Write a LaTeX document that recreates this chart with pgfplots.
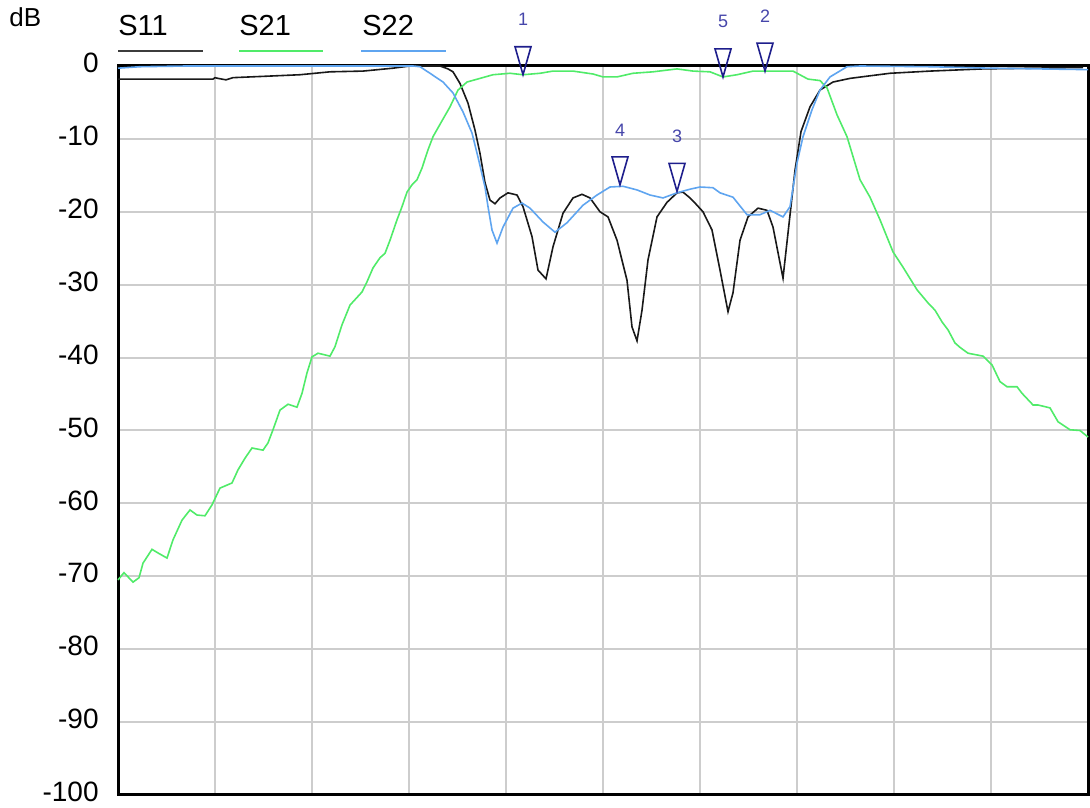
\documentclass[border=0pt]{standalone}
\usepackage{fontspec}
\setmainfont{Liberation Sans}
\usepackage{pgfplots}
\pgfplotsset{compat=1.18}

\definecolor{sone}{RGB}{25,25,25}
\definecolor{stwoone}{RGB}{80,235,105}
\definecolor{stwotwo}{RGB}{95,165,240}
\definecolor{gridgray}{RGB}{205,205,205}
\definecolor{mkcol}{RGB}{30,30,140}
\definecolor{numcol}{RGB}{70,70,170}

% marker: open triangle, tip on the point
\pgfdeclareplotmark{tipdown}{%
  \pgfpathmoveto{\pgfqpoint{0pt}{0pt}}%
  \pgfpathlineto{\pgfqpoint{-4pt}{14pt}}%
  \pgfpathlineto{\pgfqpoint{4pt}{14pt}}%
  \pgfpathclose
  \pgfusepathqstroke}

\begin{document}
\begin{tikzpicture}
\useasboundingbox (0,0) rectangle (545pt,403.5pt);
\begin{axis}[
    at={(59pt,6pt)}, anchor=south west,
    scale only axis, width=485pt, height=364.5pt,
    xmin=0, xmax=970, ymin=-100, ymax=0,
    xtick={0,97,...,970}, xticklabels={},
    ytick={-100,-90,...,0},
    grid=major,
    grid style={gridgray, line width=1pt},
    major tick length=0pt,
    axis line style={black, line width=1.5pt},
    /pgf/number format/assume math mode=true,
    yticklabel style={font=\fontsize{14}{16}\selectfont, anchor=east, inner sep=0pt, xshift=-9.5pt, yshift=1.5pt},
    clip=false,
]

% S11
\addplot[sone, line width=0.8pt] coordinates {
(0,-1.8)(95,-1.8)(97,-1.6)(100,-1.7)(108,-1.9)(115,-1.6)(149,-1.4)(182,-1.2)
(212,-0.8)(245,-0.7)(275,-0.3)(292,0)(322,0)(330,-0.4)(335,-0.8)(342,-2.4)
(350,-5.1)(357,-8.8)(362,-12)(367,-16)(372,-18.4)(377,-18.9)(382,-18.1)(390,-17.4)
(399,-17.7)(405,-19.3)(414,-23.4)(420,-28)(428,-29.2)(435,-24.8)(445,-20.2)(455,-18.1)
(464,-17.6)(472,-18.1)(482,-20)(490,-20.7)(499,-23.9)(509,-29.4)(514,-35.8)(519,-37.7)
(524,-33.5)(530,-26.6)(539,-20.7)(549,-18.7)(559,-17.4)(565,-17.3)(572,-18.1)(577,-18.8)
(585,-20)(594,-22.5)(602,-28)(610,-33.7)(615,-31.1)(622,-23.9)(630,-20.7)(640,-19.5)
(649,-19.8)(655,-22.1)(665,-29.1)(670,-22.9)(677,-14.3)(683,-9)(692,-5.6)(702,-3.3)
(715,-2.2)(732,-1.7)(749,-1.4)(772,-1.0)(812,-0.7)(865,-0.4)(965,-0.2)
};

% S21
\addplot[stwoone, line width=0.8pt] coordinates {
(0,-70.5)(6,-69.5)(15,-70.8)(21,-70.2)(25,-68.2)(34,-66.3)(40,-66.8)(49,-67.5)
(55,-65)(64,-62.3)(72,-60.9)(79,-61.6)(87,-61.7)(94,-60.2)(102,-57.9)(114,-57.2)
(120,-55.4)(127,-53.8)(134,-52.4)(145,-52.7)(150,-51.7)(155,-49.9)(162,-47.2)(170,-46.4)
(179,-46.8)(184,-44.9)(189,-42.1)(194,-39.9)(200,-39.4)(212,-39.8)(217,-38.5)(224,-35.5)
(232,-32.8)(244,-31)(249,-29.6)(255,-27.7)(262,-26.3)(267,-25.7)(272,-23.9)(279,-21.1)
(284,-19.3)(289,-17.3)(294,-16.3)(299,-15.6)(304,-14)(310,-11.5)(315,-9.7)(322,-8)
(332,-5.6)(340,-3.3)(349,-2.2)(362,-1.7)(375,-1.2)(392,-1.0)(405,-1.2)(422,-1.0)
(435,-0.7)(455,-0.7)(475,-1.1)(485,-1.5)(499,-1.5)(515,-1.0)(535,-0.8)(559,-0.4)
(575,-0.7)(592,-0.8)(605,-1.5)(619,-1.2)(635,-0.7)(675,-0.7)(690,-1.8)(702,-2.0)
(709,-3.0)(719,-6.7)(729,-9.7)(742,-15.6)(752,-18)(762,-21.1)(775,-25.5)(785,-27.6)
(799,-30.7)(810,-32.5)(817,-33.5)(824,-35.1)(830,-36.2)(837,-38)(842,-38.6)(850,-39.4)
(865,-39.8)(874,-41)(882,-43.3)(889,-44)(899,-44)(904,-44.9)(915,-46.5)(920,-46.5)
(932,-46.9)(940,-48.8)(952,-49.9)(962,-50)(970,-50.9)
};

% S22
\addplot[stwotwo, line width=0.8pt] coordinates {
(0,-0.3)(22,-0.1)(69,0)(295,0)(302,-0.1)(312,-1)(325,-2.2)(335,-3.7)
(345,-6.3)(354,-9.2)(360,-12.5)(367,-16.6)(370,-19.3)(374,-22.5)(379,-24.3)(385,-22.1)
(395,-19.5)(404,-18.8)(412,-19.5)(425,-21.4)(437,-22.8)(449,-21.5)(465,-19.1)(479,-17.7)
(492,-16.6)(505,-16.5)(519,-17)(532,-17.7)(545,-18.1)(559,-17.4)(572,-16.9)(582,-16.6)
(595,-16.7)(602,-17.4)(615,-18)(629,-20.4)(642,-20.4)(652,-19.8)(665,-20.7)(672,-19.3)
(679,-13.3)(685,-9.7)(694,-6)(702,-3.3)(712,-1.5)(729,-0.1)(742,0)(812,-0.1)
(872,-0.3)(970,-0.5)
};

% markers
\addplot[only marks, mark=tipdown, mkcol, line width=0.8pt,
    point meta=explicit symbolic,
    nodes near coords,
    nodes near coords style={anchor=south, inner sep=0pt, yshift=24pt,
        font=\fontsize{9}{10}\selectfont, text=numcol}]
    table[meta=lab] {
x y lab
405 -1.2 1
647 -0.7 2
559 -17.2 3
502 -16.3 4
605 -1.5 5
};
\end{axis}

% legend and unit, text above a line
\node[anchor=base west, inner sep=0pt, font=\fontsize{13}{15}\selectfont] at (4.5pt,390pt) {dB};
\node[anchor=base west, inner sep=0pt, font=\fontsize{14.5}{16}\selectfont] at (59pt,385.5pt) {S11};
\node[anchor=base west, inner sep=0pt, font=\fontsize{14.5}{16}\selectfont] at (119.5pt,385.5pt) {S21};
\node[anchor=base west, inner sep=0pt, font=\fontsize{14.5}{16}\selectfont] at (181pt,385.5pt) {S22};
\draw[line width=1pt, color={rgb,255:red,60;green,60;blue,60}] (59pt,378pt) -- (101.5pt,378pt);
\draw[line width=1pt, stwoone] (119.5pt,378pt) -- (161.5pt,378pt);
\draw[line width=1pt, stwotwo] (180.5pt,378pt) -- (223pt,378pt);
\end{tikzpicture}
\end{document}
